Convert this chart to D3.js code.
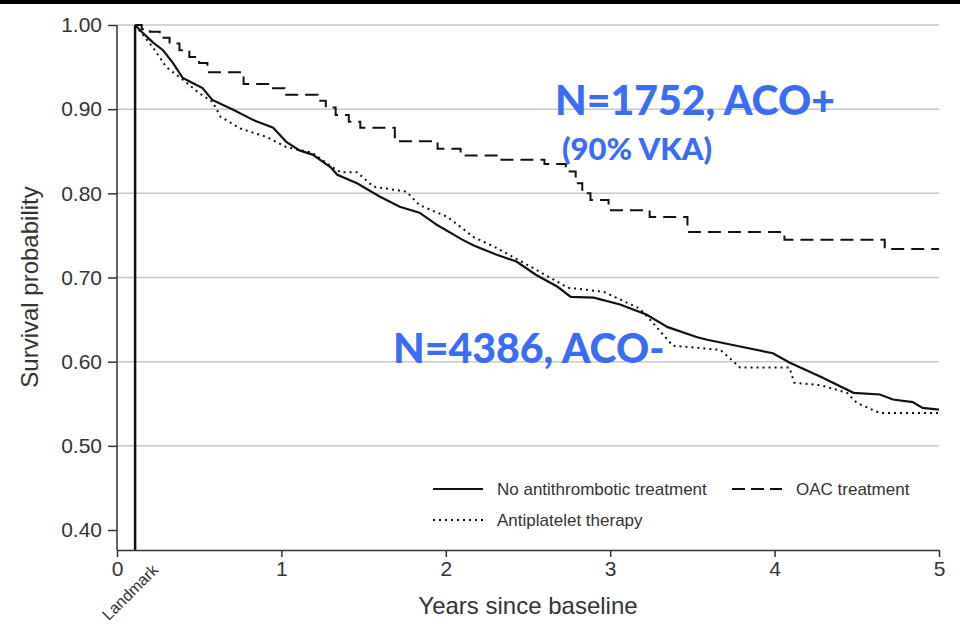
<!DOCTYPE html>
<html>
<head>
<meta charset="utf-8">
<script src="https://cdnjs.cloudflare.com/ajax/libs/d3/7.8.5/d3.min.js"></script>
<style>
  body { margin: 0; background: #fff; }
  .tick text { font-family: "Liberation Sans", Arial, sans-serif; fill: #333; }
</style>
</head>
<body>
<div id="chart"></div>
<script>
// data (years, survival)
var noTreatTime = [0.11, 0.16, 0.22, 0.28, 0.34, 0.40, 0.46, 0.52, 0.58, 0.71, 0.83, 0.95, 1.03, 1.11, 1.19, 1.30, 1.34, 1.46, 1.60, 1.72, 1.84, 1.95, 2.10, 2.17, 2.31, 2.43, 2.55, 2.68, 2.76, 2.90, 3.06, 3.22, 3.35, 3.53, 3.59, 3.79, 3.99, 4.09, 4.28, 4.48, 4.64, 4.72, 4.84, 4.90, 5.00];
var noTreatSurv = [1.000, 0.990, 0.979, 0.970, 0.955, 0.937, 0.931, 0.925, 0.911, 0.899, 0.887, 0.878, 0.861, 0.851, 0.846, 0.831, 0.822, 0.812, 0.796, 0.784, 0.777, 0.762, 0.745, 0.738, 0.727, 0.719, 0.703, 0.689, 0.677, 0.676, 0.668, 0.656, 0.641, 0.629, 0.626, 0.618, 0.610, 0.599, 0.582, 0.563, 0.561, 0.555, 0.552, 0.545, 0.543];

var antiplTime = [0.11, 0.22, 0.30, 0.40, 0.50, 0.58, 0.63, 0.75, 0.91, 1.03, 1.19, 1.31, 1.36, 1.46, 1.56, 1.76, 1.84, 2.01, 2.17, 2.31, 2.57, 2.74, 2.96, 3.18, 3.26, 3.38, 3.67, 3.79, 4.09, 4.12, 4.28, 4.44, 4.50, 4.64, 5.00];
var antiplSurv = [1.000, 0.973, 0.950, 0.935, 0.919, 0.909, 0.891, 0.877, 0.867, 0.855, 0.848, 0.831, 0.825, 0.825, 0.808, 0.802, 0.786, 0.772, 0.748, 0.735, 0.707, 0.688, 0.683, 0.663, 0.646, 0.619, 0.614, 0.593, 0.593, 0.575, 0.572, 0.563, 0.551, 0.539, 0.539];

var oacTime = [0.11, 0.15, 0.20, 0.26, 0.32, 0.38, 0.44, 0.50, 0.55, 0.77, 0.93, 1.02, 1.22, 1.27, 1.33, 1.41, 1.48, 1.69, 1.95, 2.09, 2.33, 2.60, 2.73, 2.79, 2.83, 2.88, 2.99, 3.24, 3.47, 4.06, 4.67, 5.00];
var oacSurv = [1.000, 0.995, 0.992, 0.985, 0.978, 0.970, 0.962, 0.955, 0.944, 0.930, 0.925, 0.917, 0.910, 0.902, 0.893, 0.885, 0.878, 0.862, 0.853, 0.845, 0.840, 0.835, 0.826, 0.812, 0.800, 0.792, 0.780, 0.772, 0.754, 0.745, 0.734, 0.734];

var yTicks = [0.40, 0.50, 0.60, 0.70, 0.80, 0.90, 1.00];
var xTicks = [0, 1, 2, 3, 4, 5];
var landmark = 0.11;

var svgWidth = 960;
var svgHeight = 634;

var svg = d3.select("#chart")
  .append("svg")
  .attr("width", svgWidth)
  .attr("height", svgHeight);

// black band on top
svg.append("rect")
  .attr("x", 0).attr("y", 0)
  .attr("width", svgWidth).attr("height", 4)
  .attr("fill", "#000");

// scales
var xScale = d3.scaleLinear().domain([0, 5]).range([117, 939]);
var yScale = d3.scaleLinear().domain([0.4, 1]).range([530, 25]);
var yBottom = 550;

// grid lines
svg.append("g")
  .selectAll("line")
  .data(yTicks.filter(function(d) { return d >= 0.5; }))
  .enter()
  .append("line")
  .attr("x1", xScale(0))
  .attr("x2", xScale(5))
  .attr("y1", function(d) { return yScale(d); })
  .attr("y2", function(d) { return yScale(d); })
  .attr("stroke", "#c8c8c8")
  .attr("stroke-width", 1.5);

// y axis
var leftAxis = d3.axisLeft(yScale)
  .tickValues(yTicks)
  .tickFormat(d3.format(".2f"))
  .tickSize(9)
  .tickPadding(6);
var yAxisG = svg.append("g")
  .attr("transform", "translate(" + xScale(0) + ",0)")
  .call(leftAxis);
yAxisG.select(".domain").remove();
yAxisG.selectAll("line").attr("stroke", "#333").attr("stroke-width", 1.5);
yAxisG.selectAll("text").style("font-size", "21px");
svg.append("line")
  .attr("x1", xScale(0)).attr("x2", xScale(0))
  .attr("y1", yScale(1)).attr("y2", yBottom)
  .attr("stroke", "#333").attr("stroke-width", 1.5);

// x axis
var bottomAxis = d3.axisBottom(xScale)
  .tickValues(xTicks)
  .tickFormat(d3.format("d"))
  .tickSize(7)
  .tickSizeOuter(0)
  .tickPadding(4);
var xAxisG = svg.append("g")
  .attr("transform", "translate(0," + yBottom + ")")
  .call(bottomAxis);
xAxisG.select(".domain").attr("stroke", "#333").attr("stroke-width", 1.5);
xAxisG.selectAll("line").attr("stroke", "#333").attr("stroke-width", 1.5);
xAxisG.selectAll("text").style("font-size", "21px");

// landmark line
svg.append("line")
  .attr("x1", xScale(landmark)).attr("x2", xScale(landmark))
  .attr("y1", yScale(1)).attr("y2", yBottom)
  .attr("stroke", "#111").attr("stroke-width", 2.5);

svg.append("text")
  .attr("transform", "translate(" + (xScale(landmark) + 24) + ",571) rotate(-45)")
  .attr("text-anchor", "end")
  .style("font-family", "Liberation Sans, Arial, sans-serif")
  .style("font-size", "16px")
  .style("fill", "#333")
  .text("Landmark");

// axis titles
svg.append("text")
  .attr("x", 528).attr("y", 614)
  .attr("text-anchor", "middle")
  .style("font-family", "Liberation Sans, Arial, sans-serif")
  .style("font-size", "24px")
  .style("fill", "#333")
  .text("Years since baseline");

svg.append("text")
  .attr("transform", "translate(38,287) rotate(-90)")
  .attr("text-anchor", "middle")
  .style("font-family", "Liberation Sans, Arial, sans-serif")
  .style("font-size", "24px")
  .style("fill", "#333")
  .text("Survival probability");

// curves
function toPoints(times, survs) {
  return times.map(function(t, i) { return [t, survs[i]]; });
}

var lineLinear = d3.line()
  .x(function(d) { return xScale(d[0]); })
  .y(function(d) { return yScale(d[1]); });

var lineStep = d3.line()
  .curve(d3.curveStepAfter)
  .x(function(d) { return xScale(d[0]); })
  .y(function(d) { return yScale(d[1]); });

svg.append("path")
  .attr("d", lineStep(toPoints(oacTime, oacSurv)))
  .attr("fill", "none")
  .attr("stroke", "#111")
  .attr("stroke-width", 2)
  .attr("stroke-dasharray", "13,7");

svg.append("path")
  .attr("d", lineLinear(toPoints(antiplTime, antiplSurv)))
  .attr("fill", "none")
  .attr("stroke", "#111")
  .attr("stroke-width", 2)
  .attr("stroke-dasharray", "2,4");

svg.append("path")
  .attr("d", lineLinear(toPoints(noTreatTime, noTreatSurv)))
  .attr("fill", "none")
  .attr("stroke", "#111")
  .attr("stroke-width", 2.2);

// legend
var legendItems = [
  { label: "No antithrombotic treatment", x: 433, y: 489, dash: null },
  { label: "OAC treatment", x: 732, y: 489, dash: "13,6" },
  { label: "Antiplatelet therapy", x: 433, y: 520, dash: "2,4" }
];
var legend = svg.append("g");
legendItems.forEach(function(item) {
  legend.append("line")
    .attr("x1", item.x).attr("x2", item.x + 50)
    .attr("y1", item.y).attr("y2", item.y)
    .attr("stroke", "#111")
    .attr("stroke-width", 2)
    .attr("stroke-dasharray", item.dash);
  legend.append("text")
    .attr("x", item.x + 64).attr("y", item.y + 6)
    .style("font-family", "Liberation Sans, Arial, sans-serif")
    .style("font-size", "17px")
    .style("fill", "#333")
    .text(item.label);
});

// blue annotations
var blue = "#3b6cf5";
function note(txt, x, y, size) {
  svg.append("text")
    .attr("x", x).attr("y", y)
    .style("font-family", "Lato, 'Open Sans', sans-serif")
    .style("font-weight", "900")
    .style("font-size", size + "px")
    .style("fill", blue)
    .text(txt);
}
note("N=1752, ACO+", 555, 115, 41);
note("(90% VKA)", 562, 160, 31);
note("N=4386, ACO-", 393, 363, 41);
</script>
</body>
</html>
